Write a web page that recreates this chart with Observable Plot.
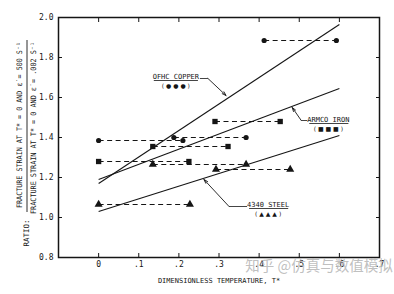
<!DOCTYPE html>
<html>
<head>
<meta charset="utf-8">
<script src="https://cdn.jsdelivr.net/npm/d3@7"></script>
<script src="https://cdn.jsdelivr.net/npm/@observablehq/plot@0.6"></script>
<style>
html,body{margin:0;padding:0;background:#fff;}
</style>
</head>
<body>
<div id="chart"></div>
<script>
// ---- data ----
const xTicks = [0, 0.1, 0.2, 0.3, 0.4, 0.5, 0.6, 0.7];
const yTicks = [0.8, 1.0, 1.2, 1.4, 1.6, 1.8, 2.0];

// OFHC copper (circles): dashed pairs
const copperStart = [0, 0.1875, 0.4125];
const copperEnd   = [0.21, 0.3675, 0.5925];
const copperRatio = [1.385, 1.40, 1.885];
// Armco iron (squares)
const ironStart = [0, 0.135, 0.29];
const ironEnd   = [0.225, 0.3225, 0.4525];
const ironRatio = [1.28, 1.355, 1.48];
// 4340 steel (triangles)
const steelStart = [0, 0.135, 0.2925];
const steelEnd   = [0.2275, 0.3675, 0.4775];
const steelRatio = [1.065, 1.265, 1.24];

// solid fit lines
const fitT = [0, 0.6];
const copperFit = [1.17, 1.965];
const ironFit   = [1.19, 1.645];
const steelFit  = [1.03, 1.41];

// annotation labels
const labelNames = ["OFHC COPPER", "ARMCO IRON", "4340 STEEL"];
const labelSymbols = ["( \u25CF \u25CF \u25CF )", "( \u25A0 \u25A0 \u25A0 )", "( \u25B2 \u25B2 \u25B2 )"];
const labelT = [0.1925, 0.5725, 0.4225];
const labelR = [1.705, 1.49, 1.065];
const symbolR = [1.655, 1.44, 1.015];
const underlineT1 = [0.1375, 0.525, 0.375];
const underlineT2 = [0.2475, 0.6225, 0.4725];
const underlineR = [1.685, 1.47, 1.045];
// leader lines: horizontal piece then arrow
const leadT0 = [0.2525, 0.52, 0.37];
const leadT1 = [0.2725, 0.505, 0.325];
const leadR  = [1.695, 1.485, 1.055];
const arrowT = [0.3175, 0.4825, 0.2625];
const arrowR = [1.61, 1.55, 1.19];

const xLabel = "DIMENSIONLESS TEMPERATURE, T*";
const yNumerator = "FRACTURE STRAIN AT T* = 0 AND \u03B5\u0307 = 500 S\u207B\u00B9";
const yDenominator = "FRACTURE STRAIN AT T* = 0 AND \u03B5\u0307 = .002 S\u207B\u00B9";
const yRatio = "RATIO:";
const watermark = "知乎 @仿真与数值模拟";

// ---- tables ----
const pairs = (s, e, r) => s.map((d, i) => ({x1: d, x2: e[i], y: r[i]}));
const ends = (s, e, r) => s.flatMap((d, i) => [{x: d, y: r[i]}, {x: e[i], y: r[i]}]);
const copperPairs = pairs(copperStart, copperEnd, copperRatio);
const ironPairs = pairs(ironStart, ironEnd, ironRatio);
const steelPairs = pairs(steelStart, steelEnd, steelRatio);
const allPairs = [...copperPairs, ...ironPairs, ...steelPairs];
const fits = [copperFit, ironFit, steelFit].map(f => ({x1: fitT[0], x2: fitT[1], y1: f[0], y2: f[1]}));
const labels = labelNames.map((n, i) => ({name: n, sym: labelSymbols[i], x: labelT[i], y: labelR[i], ys: symbolR[i],
  u1: underlineT1[i], u2: underlineT2[i], ur: underlineR[i],
  l0: leadT0[i], l1: leadT1[i], lr: leadR[i], ax: arrowT[i], ay: arrowR[i]}));

const ink = "#151515";
const fmtX = d => d === 0 ? "0" : d3.format(".1f")(d).replace(/^0\./, ".");

const chart = Plot.plot({
  width: 394, height: 294,
  marginLeft: 58, marginRight: 15, marginTop: 17, marginBottom: 37,
  x: {domain: [-0.1, 0.7]},
  y: {domain: [0.8, 2.0]},
  style: {fontFamily: "DejaVu Sans Mono", fontSize: "8px", color: ink, background: "#fff"},
  marks: [
    Plot.frame({stroke: ink, strokeWidth: 1.5}),
    Plot.axisX({ticks: xTicks, tickSize: -4, tickPadding: 8, tickFormat: fmtX, label: null, stroke: ink}),
    Plot.axisX({anchor: "top", ticks: xTicks, tickSize: -4, tickFormat: () => "", label: null, stroke: ink}),
    Plot.axisY({ticks: yTicks, tickSize: -4, tickPadding: 9, tickFormat: d3.format(".1f"), label: null, stroke: ink}),
    Plot.axisY({anchor: "right", ticks: yTicks, tickSize: -4, tickFormat: () => "", label: null, stroke: ink}),
    // dashed spans
    Plot.link(allPairs, {x1: "x1", x2: "x2", y1: "y", y2: "y", stroke: ink, strokeWidth: 1, strokeDasharray: "5,3.5"}),
    // fit lines
    Plot.link(fits, {x1: "x1", x2: "x2", y1: "y1", y2: "y2", stroke: ink, strokeWidth: 1.1}),
    // points
    Plot.dot(ends(copperStart, copperEnd, copperRatio), {x: "x", y: "y", r: 2.6, fill: ink, symbol: "circle"}),
    Plot.dot(ends(ironStart, ironEnd, ironRatio), {x: "x", y: "y", r: 3.0, fill: ink, symbol: "square"}),
    Plot.dot(ends(steelStart, steelEnd, steelRatio), {x: "x", y: "y", r: 3.0, fill: ink, symbol: "triangle"}),
    // annotations
    Plot.text(labels, {x: "x", y: "y", text: "name", fill: ink, fontSize: 7, fontFamily: "DejaVu Sans Mono"}),
    Plot.text(labels, {x: "x", y: "ys", text: "sym", fill: ink, fontSize: 6, fontFamily: "DejaVu Sans"}),
    Plot.link(labels, {x1: "u1", x2: "u2", y1: "ur", y2: "ur", stroke: ink, strokeWidth: 0.8}),
    Plot.link(labels, {x1: "l0", x2: "l1", y1: "lr", y2: "lr", stroke: ink, strokeWidth: 0.8}),
    Plot.arrow(labels, {x1: "l1", y1: "lr", x2: "ax", y2: "ay", stroke: ink, strokeWidth: 0.9, headLength: 7, headAngle: 35}),
    // x-axis title
    Plot.text([xLabel], {frameAnchor: "bottom", dy: 25, fill: ink, fontSize: 7, fontFamily: "DejaVu Sans Mono"})
  ]
});

document.getElementById("chart").appendChild(chart);

// y-axis title (two-line fraction, rotated)
const svg = d3.select(chart);
const g = svg.append("g").attr("fill", ink).attr("font-family", "DejaVu Sans Mono").attr("font-size", 7.5);
g.append("text").attr("transform", "translate(22,125) rotate(-90)").attr("text-anchor", "middle")
  .attr("textLength", 166).attr("lengthAdjust", "spacingAndGlyphs").text(yNumerator);
g.append("text").attr("transform", "translate(36,128) rotate(-90)").attr("text-anchor", "middle")
  .attr("textLength", 172).attr("lengthAdjust", "spacingAndGlyphs").text(yDenominator);
g.append("text").attr("transform", "translate(29,233) rotate(-90)").attr("text-anchor", "middle")
  .text(yRatio);
svg.append("line").attr("x1", 27).attr("x2", 27).attr("y1", 40).attr("y2", 212)
  .attr("stroke", ink).attr("stroke-width", 0.9);

// watermark
svg.append("text").attr("x", 319).attr("y", 271).attr("text-anchor", "middle")
  .attr("font-family", "Noto Sans CJK SC").attr("font-size", 14.5)
  .attr("fill", "#b8b8b8").attr("fill-opacity", 0.9).text(watermark);
</script>
</body>
</html>
